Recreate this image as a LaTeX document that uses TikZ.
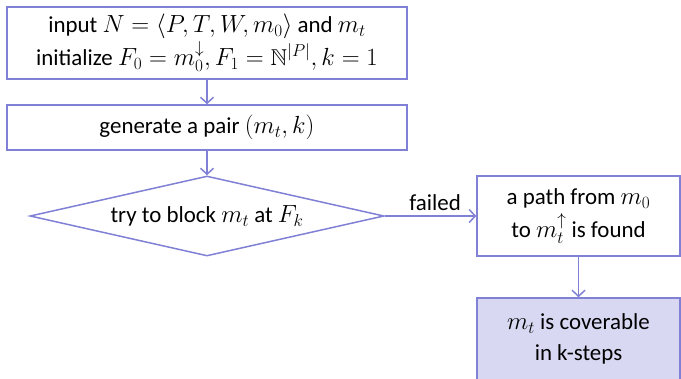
\documentclass[tikz,border=0pt]{standalone}
\usepackage{amssymb}
\usepackage{fontspec}
\setmainfont{Carlito}
\usetikzlibrary{shapes.geometric,arrows.meta}
\definecolor{edge}{RGB}{128,128,214}
\definecolor{fillb}{RGB}{216,216,242}
\newcommand{\suparr}[1]{\raisebox{2bp}{$\scriptstyle#1$}}
\tikzset{
  txt/.style={font=\fontsize{23}{31}\selectfont},
  box/.style={draw=edge,line width=1.5bp,fill=white,inner sep=0pt,align=center,txt},
  dec/.style={draw=edge,line width=1.5bp,shape=diamond,inner sep=0pt,txt},
  conn/.style={draw=edge,line width=1.5bp,-{Straight Barb[length=6bp,width=13bp,line width=1.5bp]}},
}
\begin{document}
\begin{tikzpicture}[x=1bp,y=-1bp]
\useasboundingbox (0,0) rectangle (681,378);
\node[box,minimum width=400bp,minimum height=72bp,font=\fontsize{23}{33}\selectfont] (init) at (207,43) {input $N=\langle P,T,W,m_0\rangle$ and $m_t$\\initialize $F_0=m_0^{\suparr{\downarrow}}, F_1=\mathbb{N}^{|P|}, k=1$};
\node[box,minimum width=400bp,minimum height=45bp] (gen) at (207,127.5) {generate a pair $(m_t,k)$};
\node[dec,minimum width=354bp,minimum height=80bp,shape aspect=4.4] (try) at (207,216) {try to block $m_t$ at $F_k$};
\node[box,minimum width=203bp,minimum height=80bp,font=\fontsize{23}{33}\selectfont] (path) at (578.5,216) {a path from $m_0$\\to $m_t^{\suparr{\uparrow}}$ is found};
\node[box,fill=fillb,minimum width=203bp,minimum height=82bp,font=\fontsize{23}{31}\selectfont] (cov) at (578.5,339) {$m_t$ is coverable\\in k-steps};
\draw[conn] (init) -- (gen);
\draw[conn] (gen) -- (try);
\draw[conn] (try) -- node[above,txt,pos=0.55,yshift=1bp] {failed} (path);
\draw[conn] (path) -- (cov);
\end{tikzpicture}
\end{document}
